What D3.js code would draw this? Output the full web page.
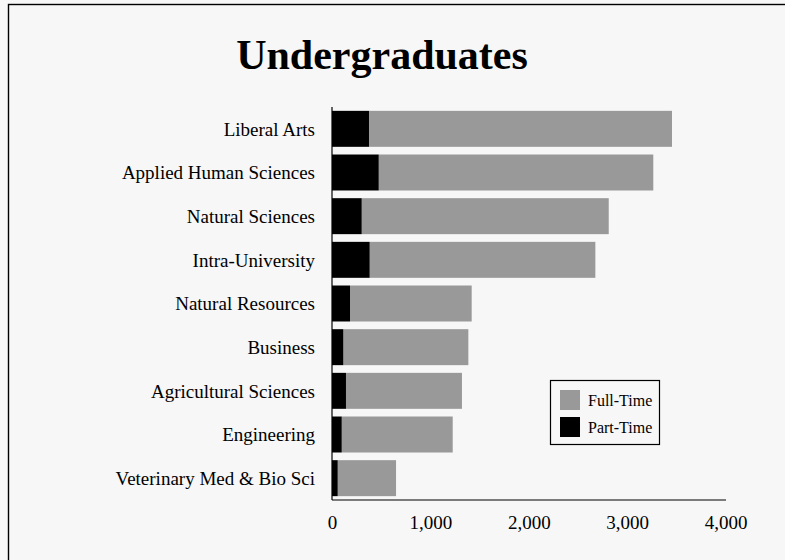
<!DOCTYPE html>
<html>
<head>
<meta charset="utf-8">
<script src="https://cdn.jsdelivr.net/npm/d3@7"></script>
<style>
  html, body { margin: 0; padding: 0; background: #f7f7f7; }
  svg { display: block; }
  text { font-family: "Liberation Serif", "Times New Roman", serif; fill: #000; }
</style>
</head>
<body>
<script>
// ---- Data ----
const categories = [
  "Liberal Arts",
  "Applied Human Sciences",
  "Natural Sciences",
  "Intra-University",
  "Natural Resources",
  "Business",
  "Agricultural Sciences",
  "Engineering",
  "Veterinary Med & Bio Sci"
];
const partTime = [376, 475, 302, 383, 183, 115, 142, 99, 58];
const fullTime = [3080, 2791, 2511, 2294, 1237, 1271, 1179, 1128, 593];
const seriesNames = ["Full-Time", "Part-Time"];
const seriesColors = ["#999999", "#000000"];
const xTicks = [0, 1000, 2000, 3000, 4000];
const titleText = "Undergraduates";

// ---- Layout ----
const W = 785, H = 560;
const svg = d3.select("body").append("svg").attr("width", W).attr("height", H);

svg.append("rect").attr("x", 0).attr("y", 0).attr("width", W).attr("height", H).attr("fill", "#f7f7f7");
svg.append("rect").attr("x", 8.5).attr("y", 4.5).attr("width", 900).attr("height", 700)
  .attr("fill", "none").attr("stroke", "#000").attr("stroke-width", 1.4);

const x = d3.scaleLinear().domain([0, 4000]).range([332, 725.5]);
const y = d3.scaleBand().domain(categories).range([107, 500])
  .paddingInner(0.176).paddingOuter(0.088);

const rows = categories.map((c, i) => ({ cat: c, pt: partTime[i], ft: fullTime[i] }));

// Title
svg.append("text").attr("x", 382).attr("y", 69).attr("text-anchor", "middle")
  .style("font-size", "42px").style("font-weight", "bold").text(titleText);

// Bars: Part-time first (from 0), Full-time stacked after
const g = svg.append("g");
g.selectAll("rect.ft").data(rows).join("rect").attr("class", "ft")
  .attr("x", d => x(d.pt)).attr("y", d => y(d.cat))
  .attr("width", d => x(d.pt + d.ft) - x(d.pt)).attr("height", y.bandwidth())
  .attr("fill", seriesColors[0]);
g.selectAll("rect.pt").data(rows).join("rect").attr("class", "pt")
  .attr("x", x(0)).attr("y", d => y(d.cat))
  .attr("width", d => x(d.pt) - x(0)).attr("height", y.bandwidth())
  .attr("fill", seriesColors[1]);

// Y axis (category labels)
const yAxis = d3.axisLeft(y).tickSize(0).tickPadding(0);
const ya = svg.append("g").attr("transform", `translate(${x(0)},0)`).call(yAxis);
ya.select(".domain").remove();
ya.selectAll("text").attr("x", -17).attr("dy", "0.36em")
  .style("font-size", "19px").style("font-family", '"Liberation Serif", serif');
svg.append("line").attr("x1", x(0)).attr("x2", x(0)).attr("y1", 107).attr("y2", 500)
  .attr("stroke", "#000").attr("stroke-width", 1.2);

// X axis
const xAxis = d3.axisBottom(x).tickValues(xTicks).tickSize(0).tickPadding(0)
  .tickFormat(d3.format(","));
const xa = svg.append("g").attr("transform", "translate(0,500)").call(xAxis);
xa.select(".domain").remove();
xa.selectAll("text").attr("y", 29).attr("dy", 0)
  .style("font-size", "19px").style("font-family", '"Liberation Serif", serif');
svg.append("line").attr("x1", x(0)).attr("x2", 726).attr("y1", 500).attr("y2", 500)
  .attr("stroke", "#000").attr("stroke-width", 1.2);

// Legend
const lg = svg.append("g");
lg.append("rect").attr("x", 550.5).attr("y", 380.5).attr("width", 109).attr("height", 64)
  .attr("fill", "none").attr("stroke", "#000").attr("stroke-width", 1.2);
seriesNames.forEach((name, i) => {
  lg.append("rect").attr("x", 560).attr("y", 390 + i * 27).attr("width", 20).attr("height", 20)
    .attr("fill", seriesColors[i]);
  lg.append("text").attr("x", 588).attr("y", 406 + i * 27)
    .style("font-size", "16px").text(name);
});
</script>
</body>
</html>
